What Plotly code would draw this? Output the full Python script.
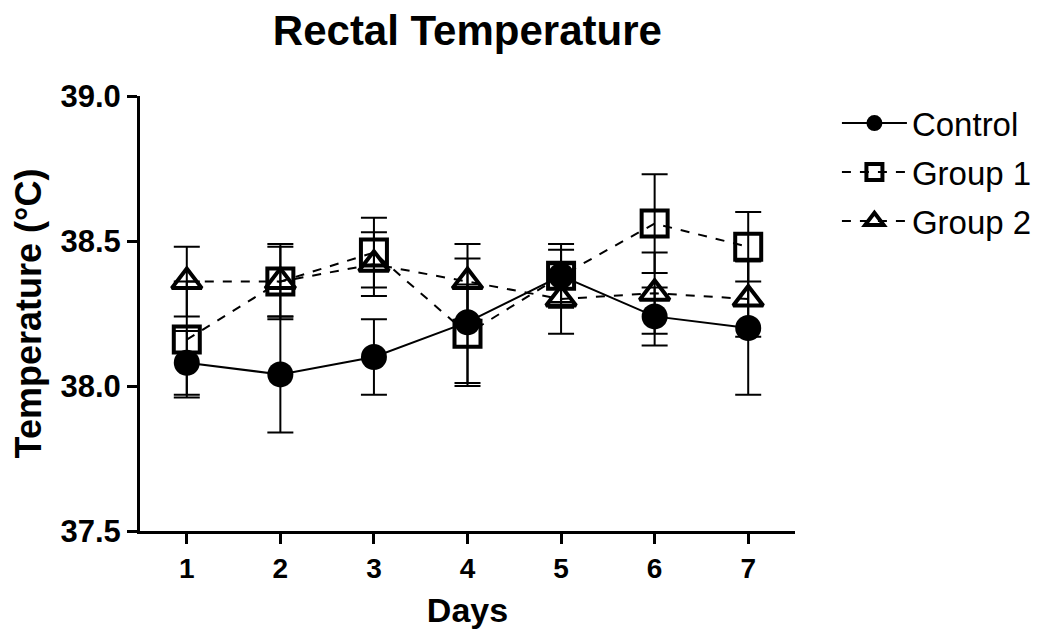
import plotly.graph_objects as go

days = [1, 2, 3, 4, 5, 6, 7]
control_mean = [38.08, 38.04, 38.10, 38.22, 38.38, 38.24, 38.20]
control_err = [0.11, 0.20, 0.13, 0.22, 0.11, 0.10, 0.23]
group1_mean = [38.16, 38.36, 38.46, 38.18, 38.38, 38.56, 38.48]
group1_err = [0.20, 0.13, 0.12, 0.17, 0.09, 0.17, 0.12]
group2_mean = [38.36, 38.36, 38.42, 38.36, 38.30, 38.32, 38.30]
group2_err = [0.12, 0.12, 0.11, 0.13, 0.12, 0.14, 0.13]
y_ticks = [37.5, 38.0, 38.5, 39.0]

FONT = "Liberation Sans, Arial, sans-serif"
fig = go.Figure()

series = [
    ("Control", control_mean, control_err, "circle", "solid", 26),
    ("Group 1", group1_mean, group1_err, "square-open", "dash", 26),
    ("Group 2", group2_mean, group2_err, "triangle-up-open", "dash", 26),
]
for name, m, e, sym, dash, sz in series:
    fig.add_trace(go.Scatter(
        x=days, y=m, name=name, mode="lines+markers", legendgroup=name,
        line=dict(color="black", width=2, dash=dash),
        marker=dict(symbol=sym, size=sz, color="black",
                    line=dict(color="black", width=4 if "open" in sym else 0)),
        error_y=dict(type="data", array=e, visible=True, color="black",
                     thickness=2, width=13),
    ))

fig.update_layout(
    width=1044, height=632,
    margin=dict(l=132, r=257, t=88, b=109),
    paper_bgcolor="white", plot_bgcolor="white",
    font=dict(family=FONT, color="black"),
    title=dict(text="<b>Rectal Temperature</b>", x=0.44, xanchor="center",
               y=0.964, yanchor="middle", font=dict(size=42, family=FONT)),
    showlegend=True,
    legend=dict(x=1.064, y=1.002, xanchor="left", yanchor="top",
                font=dict(size=33, family=FONT), bgcolor="rgba(0,0,0,0)",
                itemwidth=65, tracegroupgap=3),
)
fig.update_xaxes(
    range=[0.5, 7.5], tickvals=days, ticktext=[str(d) for d in days],
    showline=True, linecolor="black", linewidth=3, showgrid=False, zeroline=False,
    ticks="outside", ticklen=10, tickwidth=3, tickcolor="black",
    tickfont=dict(size=28, family=FONT, weight="bold"),
    title=dict(text="<b>Days</b>", font=dict(size=34, family=FONT), standoff=16),
)
fig.update_yaxes(
    range=[37.5, 39.0], tickvals=y_ticks, ticktext=[f"{v:.1f}" for v in y_ticks],
    showline=True, linecolor="black", linewidth=3, showgrid=False, zeroline=False,
    ticks="outside", ticklen=10, tickwidth=3, tickcolor="black",
    tickfont=dict(size=31, family=FONT, weight="bold"),
    title=dict(text="<b>Temperature (°C)</b>", font=dict(size=36, family=FONT), standoff=11),
)
fig.write_html("out.html")
